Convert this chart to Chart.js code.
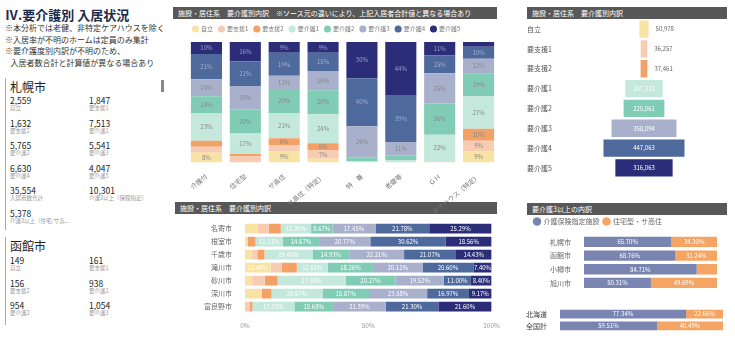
<!DOCTYPE html>
<html>
<head>
<meta charset="utf-8">
<script src="https://cdn.jsdelivr.net/npm/chart.js@4.4.1/dist/chart.umd.min.js"></script>
<style>
body{margin:0;width:735px;height:347px;background:#fff;position:relative;overflow:hidden;font-family:"Noto Sans CJK JP","Noto Sans",sans-serif;color:#222}
.abs{position:absolute;white-space:nowrap}
.head{position:absolute;background:#585858;color:#fff;font-size:7px;line-height:12px;height:12px;padding-left:5px;box-sizing:border-box;white-space:nowrap;overflow:hidden}
.num{position:absolute;font-size:8.5px;line-height:10px;color:#222}
.lab{position:absolute;font-size:5.5px;line-height:7px;color:#999;white-space:nowrap}
.card{position:absolute;left:5px;width:1px;background:#aaa}
canvas{position:absolute}
</style>
</head>
<body>

<div class="abs" style="left:5px;top:5px;font-size:13px;font-weight:bold;color:#1e2a4a">Ⅳ.要介護別 入居状況</div>
<div class="abs" style="left:5px;top:22px;font-size:8px;line-height:11.7px;color:#333">※本分析では老健、非特定ケアハウスを除く<br>※入居率が不明のホームは定員のみ集計<br>※要介護度別内訳が不明のため、<br>&nbsp;&nbsp;&nbsp;入居者数合計と計算値が異なる場合あり</div>
<div class="abs" style="left:161px;top:80px;width:3px;height:12px;background:#888"></div>

<div class="card" style="top:78px;height:152px"></div>
<div class="abs" style="left:10px;top:78px;font-size:12px;color:#222">札幌市</div>
<div id="sapporo"></div>

<div class="card" style="top:237px;height:88px"></div>
<div class="abs" style="left:10px;top:237px;font-size:12px;color:#222">函館市</div>
<div id="hakodate"></div>

<div class="head" style="left:175px;top:202px;width:322px">施設・居住系　要介護別内訳</div>
<canvas id="typeChart" width="328" height="198" style="left:170px;top:20px"></canvas>
<div class="head" style="left:173px;top:7px;width:324px">施設・居住系　要介護別内訳　※ソース元の違いにより、上記入居者合計値と異なる場合あり</div>

<canvas id="funnelChart" width="200" height="171" style="left:527px;top:13px"></canvas>
<div class="head" style="left:527px;top:7px;width:200px">施設・居住系　要介護別内訳</div>

<canvas id="cityChart" width="325" height="116" style="left:175px;top:213px"></canvas>

<div class="head" style="left:527px;top:203px;width:200px">要介護3以上の内訳</div>
<canvas id="careChart" width="200" height="85" style="left:527px;top:214px"></canvas>
<canvas id="regionChart" width="228" height="42" style="left:500px;top:299px"></canvas>

<script>
// 要介護度
const levels=["自立","要支援1","要支援2","要介護1","要介護2","要介護3","要介護4","要介護5"]
const levelColors=["#f8e3a4","#f8ccb2","#f4a168","#c4e8dc","#80ccb4","#a9b0cb","#4e699c","#2b2d78"]

// 札幌市・函館市
const sapporoVals=["2,559","1,847","1,632","7,513","5,765","5,541","6,630","4,047","35,554","10,301","5,378"]
const sapporoLabels=["自立","要支援1","要支援2","要介護1","要介護2","要介護3","要介護4","要介護5","入居者数合計","介護3以上（保険指定）","介護3以上（住宅/サ高..."]
const hakodateVals=["149","161","156","938","954","1,054"]
const hakodateLabels=["自立","要支援1","要支援2","要介護1","要介護2","要介護3"]

// 施設種別 (%)
const facilityTypes=["介護付","住宅型","サ高住","サ高住（特定）","特　養","老健等","ＧＨ","ケアハウス（特定）"]
const typeJiritsu=[8,0,9,3,0,0,0,9]
const typeShien1=[5,5,5,7,0,0,1,9]
const typeShien2=[5,2,6,6,0,0,0,10]
const typeKaigo1=[23,17,21,24,1,2,22,27]
const typeKaigo2=[14,20,20,20,3,4,26,19]
const typeKaigo3=[14,19,11,16,26,11,25,12]
const typeKaigo4=[21,21,19,15,40,39,15,10]
const typeKaigo5=[10,16,9,9,30,44,11,4]

// 要介護別の人数
const funnelVals=[50978,36257,37461,207321,225061,358094,447063,316063]

// 市別 (%)
const cities=["名寄市","根室市","千歳市","滝川市","砂川市","深川市","富良野市"]
const cityJiritsu=[5.07,1.00,2.90,10.40,2.90,6.70,0]
const cityShien1=[4.53,0,2.10,4.60,5.10,0,2.00]
const cityShien2=[4.91,3.27,2.90,6.02,5.23,4.04,1.00]
const cityKaigo1=[12.30,11.11,19.46,12.61,27.58,20.67,17.03]
const cityKaigo2=[8.67,14.67,14.93,18.26,20.27,18.87,15.68]
const cityKaigo3=[17.45,20.77,22.21,20.11,19.52,23.58,21.39]
const cityKaigo4=[21.78,30.62,21.07,20.60,11.00,16.97,21.30]
const cityKaigo5=[25.29,18.56,14.43,7.40,8.40,9.17,21.60]

// 要介護3以上の内訳 (%)
const careCities=["札幌市","函館市","小樽市","旭川市"]
const careInsured=[65.70,68.76,84.71,50.31]
const careHousing=[34.30,31.24,15.29,49.69]
const regions=["北海道","全国計"]
const regionInsured=[77.34,59.51]
const regionHousing=[22.66,40.49]

const insuredColor="#7a84b0"
const housingColor="#f5a463"

Chart.defaults.font.family="'Noto Sans CJK JP','Noto Sans',sans-serif"
Chart.defaults.font.size=7
Chart.defaults.color="#666"

function fillStats(id,vals,labels,top){
let box=document.getElementById(id)
vals.forEach((v,i)=>{
let x=i%2==0?10:89
let y=top+Math.floor(i/2)*22.6
let n=document.createElement("div")
n.className="num"
n.style.left=x+"px"
n.style.top=y+"px"
n.innerText=v
box.appendChild(n)
let l=document.createElement("div")
l.className="lab"
l.style.left=x+"px"
l.style.top=(y+10)+"px"
l.innerText=labels[i]
box.appendChild(l)
})
}

fillStats("sapporo",sapporoVals,sapporoLabels,95)
fillStats("hakodate",hakodateVals,hakodateLabels,255)

// 棒の中に値を書く
function segLabels(textFn,colorFn,posFn){
return {
id:"segLabels",
afterDatasetsDraw(chart){
let ctx=chart.ctx
ctx.save()
ctx.font="6px 'Noto Sans CJK JP'"
ctx.textBaseline="middle"
chart.data.datasets.forEach((ds,i)=>{
chart.getDatasetMeta(i).data.forEach((bar,j)=>{
let txt=textFn(ds.data[j],i,j)
if(!txt)return
let p=posFn?posFn(bar,i,j):null
if(p){
ctx.textAlign=p.align
ctx.fillStyle=colorFn(i,j)
ctx.fillText(txt,p.x,p.y)
}else{
let c=bar.getCenterPoint()
ctx.textAlign="center"
ctx.fillStyle=colorFn(i,j)
ctx.fillText(txt,c.x,c.y)
}
})
})
ctx.restore()
}
}
}

let typeSeries=[typeJiritsu,typeShien1,typeShien2,typeKaigo1,typeKaigo2,typeKaigo3,typeKaigo4,typeKaigo5]

new Chart(document.getElementById("typeChart"),{
type:"bar",
data:{
labels:facilityTypes,
datasets:typeSeries.map((d,i)=>({label:levels[i],data:d,backgroundColor:levelColors[i],categoryPercentage:0.8,barPercentage:1}))
},
options:{
responsive:false,
animation:false,
layout:{padding:{left:17,right:0,top:0}},
plugins:{
legend:{align:"start",labels:{usePointStyle:true,pointStyle:"circle",boxWidth:5,boxHeight:5,padding:6,font:{size:6},color:"#777"}},
tooltip:{enabled:false}
},
scales:{
x:{stacked:true,grid:{display:false},border:{display:false},ticks:{maxRotation:40,minRotation:40,font:{size:6.5},color:"#777",padding:2}},
y:{stacked:true,display:false,min:0,max:100}
}
},
plugins:[segLabels(
(v)=>v>=6?v+"%":"",
(i)=>i>=6?"rgba(190,195,225,0.75)":"#888"
)]
})

new Chart(document.getElementById("funnelChart"),{
type:"bar",
data:{
labels:levels,
datasets:[{data:funnelVals.map(v=>[-v/2,v/2]),backgroundColor:levelColors,categoryPercentage:0.9,barPercentage:0.97}]
},
options:{
indexAxis:"y",
responsive:false,
animation:false,
plugins:{legend:{display:false},tooltip:{enabled:false}},
scales:{
x:{display:false,min:-458000,max:458000},
y:{grid:{display:false},border:{display:false},afterFit:(s)=>{s.width=34},ticks:{crossAlign:"far",font:{size:7},color:"#555",padding:2}}
}
},
plugins:[segLabels(
(v,i,j)=>funnelVals[j].toLocaleString("en-US"),
(i,j)=>j<3?"#666":"#fff",
(bar,i,j)=>j<3?{x:bar.x+7,y:bar.y,align:"left"}:null
)]
})

let citySeries=[cityJiritsu,cityShien1,cityShien2,cityKaigo1,cityKaigo2,cityKaigo3,cityKaigo4,cityKaigo5]

new Chart(document.getElementById("cityChart"),{
type:"bar",
data:{
labels:cities,
datasets:citySeries.map((d,i)=>({label:levels[i],data:d,backgroundColor:levelColors[i],categoryPercentage:0.75,barPercentage:1}))
},
options:{
indexAxis:"y",
responsive:false,
animation:false,
plugins:{legend:{display:false},tooltip:{enabled:false}},
scales:{
x:{stacked:true,min:0,max:100,grid:{display:false},border:{display:false},ticks:{stepSize:50,callback:(v)=>v+"%",font:{size:6.5},color:"#999",padding:0}},
y:{stacked:true,grid:{display:false},border:{display:false},afterFit:(s)=>{s.width=70},ticks:{font:{size:7},color:"#666",padding:5}}
}
},
plugins:[segLabels(
(v)=>v>=7?v.toFixed(2)+"%":"",
()=>"#fff"
)]
})

new Chart(document.getElementById("careChart"),{
type:"bar",
data:{
labels:careCities,
datasets:[
{label:"介護保険指定施設",data:careInsured,backgroundColor:insuredColor,categoryPercentage:0.75,barPercentage:1},
{label:"住宅型・サ高住",data:careHousing,backgroundColor:housingColor,categoryPercentage:0.75,barPercentage:1}
]
},
options:{
indexAxis:"y",
responsive:false,
animation:false,
layout:{padding:{left:3,right:10}},
plugins:{
legend:{align:"start",labels:{usePointStyle:true,pointStyle:"circle",boxWidth:6,boxHeight:6,padding:4,font:{size:7},color:"#666"}},
tooltip:{enabled:false}
},
scales:{
x:{stacked:true,display:false,min:0,max:100},
y:{stacked:true,grid:{display:false},border:{display:false},afterFit:(s)=>{s.width=54},ticks:{font:{size:7},color:"#666",padding:5}}
}
},
plugins:[segLabels(
(v)=>v>=20?v.toFixed(2)+"%":"",
()=>"#fff"
)]
})

new Chart(document.getElementById("regionChart"),{
type:"bar",
data:{
labels:regions,
datasets:[
{label:"介護保険指定施設",data:regionInsured,backgroundColor:insuredColor,categoryPercentage:0.75,barPercentage:1},
{label:"住宅型・サ高住",data:regionHousing,backgroundColor:housingColor,categoryPercentage:0.75,barPercentage:1}
]
},
options:{
indexAxis:"y",
responsive:false,
animation:false,
layout:{padding:{right:5}},
plugins:{legend:{display:false},tooltip:{enabled:false}},
scales:{
x:{stacked:true,display:false,min:0,max:100},
y:{stacked:true,grid:{display:false},border:{display:false},afterFit:(s)=>{s.width=60},ticks:{font:{size:7},color:"#444",padding:5}}
}
},
plugins:[segLabels(
(v)=>v.toFixed(2)+"%",
()=>"#fff"
)]
})
</script>
</body>
</html>
